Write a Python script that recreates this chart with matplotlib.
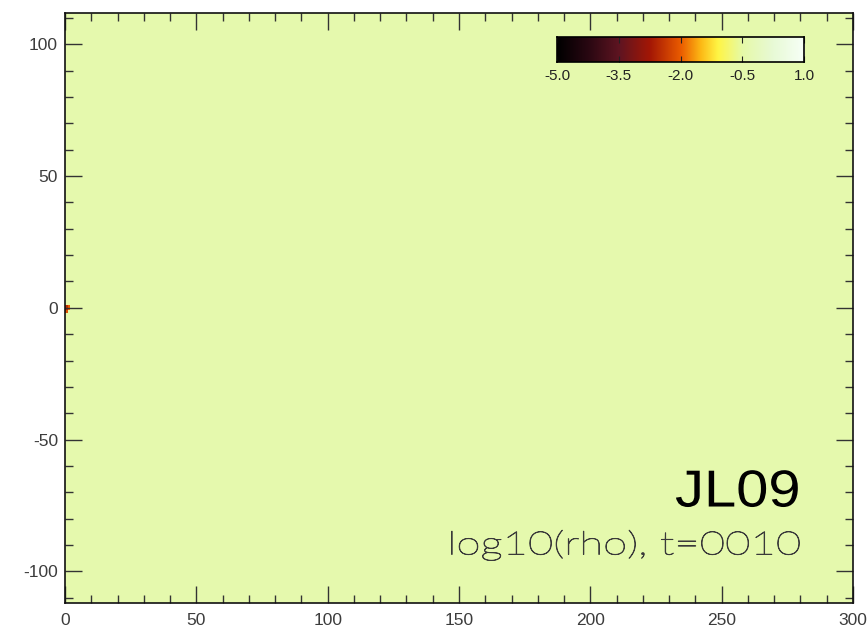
import matplotlib
matplotlib.use("Agg")
import matplotlib.pyplot as plt
import numpy as np
from matplotlib.colors import LinearSegmentedColormap
from matplotlib.font_manager import FontProperties
from matplotlib.patches import PathPatch
from matplotlib.textpath import TextPath
from matplotlib.transforms import Affine2D

plt.rcParams["axes.unicode_minus"] = False

# ── Field: log10(rho) on a uniform grid, ambient medium + jet inlet ──────────
X_EDGES = [0.0, 300.0]
Y_EDGES = [-112.0, 112.0]
NX, NY = 300, 224
LOG_RHO_AMBIENT = -0.42
# inlet cells (ix, iy, log10 rho)
INLET_CELLS = [(0, 110, -2.1), (0, 111, -2.6), (0, 112, -2.5),
               (1, 111, -1.9), (1, 112, -2.0)]

VMIN, VMAX = -5.0, 1.0
CBAR_TICKS = [-5.0, -3.5, -2.0, -0.5, 1.0]
X_TICKS = [0, 50, 100, 150, 200, 250, 300]
Y_TICKS = [-100, -50, 0, 50, 100]
TITLE = "JL09"
SUBTITLE = "log10(rho), t=0010"

# heat-style palette: black -> maroon -> red -> orange -> yellow -> pale -> white
cmap = LinearSegmentedColormap.from_list("heat", [
    (0.000, (0.00, 0.00, 0.00)),
    (0.125, (0.16, 0.03, 0.07)),
    (0.250, (0.37, 0.08, 0.13)),
    (0.375, (0.64, 0.09, 0.02)),
    (0.500, (0.92, 0.36, 0.00)),
    (0.580, (0.99, 0.72, 0.08)),
    (0.650, (1.00, 0.96, 0.27)),
    (0.750, (0.90, 0.98, 0.66)),
    (0.875, (0.91, 0.98, 0.84)),
    (1.000, (0.97, 1.00, 0.97)),
])

field = np.full((NY, NX), LOG_RHO_AMBIENT)
for ix, iy, val in INLET_CELLS:
    field[iy, ix] = val

fig = plt.figure(figsize=(8.68, 6.32), dpi=100)
ax = fig.add_axes([0.0749, 0.0459, 0.9078, 0.9341])
ax.imshow(field, origin="lower", cmap=cmap, vmin=VMIN, vmax=VMAX,
          extent=[X_EDGES[0], X_EDGES[1], Y_EDGES[0], Y_EDGES[1]],
          aspect="auto", interpolation="nearest")
ax.set_xlim(*X_EDGES)
ax.set_ylim(*Y_EDGES)

label_font = {"family": "Liberation Sans", "size": 12.5}
ax.set_xticks(X_TICKS)
ax.set_yticks(Y_TICKS)
ax.set_xticklabels([str(t) for t in X_TICKS], fontdict=label_font)
ax.set_yticklabels([str(t) for t in Y_TICKS], fontdict=label_font)
ax.set_xticks(np.arange(0, 301, 10), minor=True)
ax.set_yticks(np.arange(-110, 111, 10), minor=True)
ax.tick_params(which="both", direction="in", top=True, right=True,
               color="#333333", labelcolor="#3c3c3c")
ax.tick_params(which="major", length=12, width=1.0)
ax.tick_params(which="minor", length=5.5, width=1.0)
ax.tick_params(axis="x", which="major", pad=7.5)
ax.tick_params(axis="y", which="major", pad=5)
for s in ax.spines.values():
    s.set_linewidth(1.2)
    s.set_color("#111111")


def place_text(s, family, weight, x0, x1, baseline, cap, color, edge=0.0):
    """Fit a text path between x0..x1 (data units) with given cap height."""
    fp = FontProperties(family=family, weight=weight)
    tp = TextPath((0, 0), s, size=1, prop=fp)
    ext = tp.get_extents()
    cap_ref = TextPath((0, 0), "0", size=1, prop=fp).get_extents().y1
    sx = (x1 - x0) / ext.width
    sy = cap / cap_ref
    tr = Affine2D().translate(-ext.x0, 0).scale(sx, sy).translate(x0, baseline)
    ax.add_patch(PathPatch(tp, transform=tr + ax.transData, fc=color,
                           ec=color if edge else "none", lw=edge, zorder=5))


place_text(TITLE, "Liberation Sans", "normal", 232.6, 279.0, -75.4, 13.8, "black")
place_text(SUBTITLE, "Lato", "light", 147.2, 279.6, -93.6, 8.7, "#3a3a3a",
           edge=0.6)

# ── Colour bar inset ─────────────────────────────────────────────────────────
cax = fig.add_axes([0.6417, 0.9019, 0.2846, 0.0396])
grad = np.linspace(VMIN, VMAX, 256)[None, :]
cax.imshow(grad, cmap=cmap, vmin=VMIN, vmax=VMAX, aspect="auto",
           extent=[VMIN, VMAX, 0, 1])
cax.set_xticks(CBAR_TICKS)
cax.set_xticklabels([f"{t:.1f}" for t in CBAR_TICKS],
                    fontdict={"family": "Liberation Sans", "size": 11})
cax.set_yticks([])
cax.tick_params(axis="x", direction="in", top=True, length=4, width=0.8,
                color="#222222", labelcolor="#222222", pad=5)
for s in cax.spines.values():
    s.set_linewidth(1.2)

fig.savefig("out.png", dpi=100)
